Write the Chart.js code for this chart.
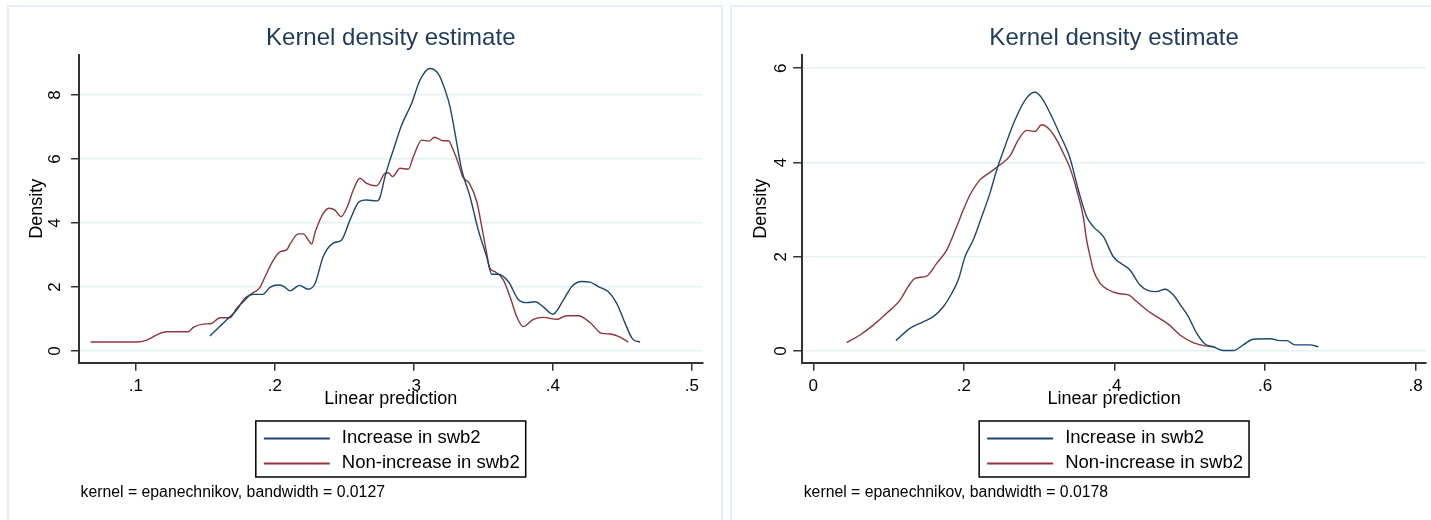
<!DOCTYPE html>
<html>
<head>
<meta charset="utf-8">
<title>Kernel density estimate</title>
<script src="https://cdn.jsdelivr.net/npm/chart.js@4.4.1/dist/chart.umd.min.js"></script>
<style>
  body { margin: 0; background: #ffffff; width: 1431px; height: 520px; overflow: hidden; position: relative; }
  .frame { position: absolute; top: 5px; height: 530px; border: 2px solid #e6eff1; }
  canvas { position: absolute; top: 0; }
</style>
</head>
<body>
<div class="frame" style="left:7px; width:712px;"></div>
<div class="frame" style="left:730px; width:720px;"></div>
<canvas id="leftChart" width="720" height="520" style="left:0px"></canvas>
<canvas id="rightChart" width="711" height="520" style="left:720px"></canvas>
<script>
// Data
var seriesNames = ['Increase in swb2', 'Non-increase in swb2'];

// left panel, bandwidth 0.0127
var leftIncX = [0.1533, 0.1665, 0.1725, 0.1785, 0.1845, 0.1912, 0.1965, 0.2024, 0.206, 0.2109, 0.2176, 0.224, 0.2289, 0.2348, 0.242, 0.248, 0.254, 0.2607, 0.266, 0.2732, 0.2756, 0.2792, 0.2828, 0.2852, 0.2912, 0.2984, 0.3044, 0.3116, 0.3176, 0.3224, 0.326, 0.3296, 0.3344, 0.3404, 0.3463, 0.3523, 0.356, 0.3607, 0.3679, 0.3751, 0.3811, 0.3871, 0.3931, 0.3999, 0.4075, 0.4135, 0.4207, 0.4267, 0.4327, 0.4399, 0.4459, 0.4519, 0.4574, 0.4627];
var leftIncY = [0.47, 1.02, 1.28, 1.65, 1.77, 1.77, 1.99, 2.06, 2.03, 1.88, 2.05, 1.93, 2.11, 2.95, 3.37, 3.47, 4.09, 4.67, 4.72, 4.69, 4.8, 5.45, 5.97, 6.28, 7.06, 7.74, 8.47, 8.83, 8.66, 8.16, 7.63, 6.80, 5.66, 4.82, 3.78, 2.95, 2.40, 2.40, 2.17, 1.61, 1.51, 1.54, 1.38, 1.15, 1.59, 2.01, 2.17, 2.15, 2.01, 1.85, 1.49, 0.87, 0.37, 0.28];
var leftNonX = [0.0675, 0.1, 0.1078, 0.1173, 0.122, 0.1377, 0.1413, 0.1485, 0.1545, 0.1605, 0.1677, 0.1725, 0.1773, 0.1821, 0.1893, 0.1929, 0.1989, 0.2037, 0.2085, 0.2109, 0.2168, 0.2204, 0.224, 0.2265, 0.2289, 0.2348, 0.2392, 0.2432, 0.2476, 0.2521, 0.2564, 0.2612, 0.266, 0.2732, 0.2792, 0.2816, 0.2847, 0.29, 0.296, 0.2996, 0.3056, 0.3111, 0.3147, 0.3211, 0.3248, 0.3283, 0.332, 0.3351, 0.3399, 0.3452, 0.3488, 0.3519, 0.3547, 0.3583, 0.3643, 0.3691, 0.374, 0.3787, 0.3859, 0.3931, 0.4027, 0.4099, 0.4183, 0.4267, 0.4351, 0.4411, 0.4483, 0.4542];
var leftNonY = [0.28, 0.28, 0.34, 0.55, 0.60, 0.60, 0.74, 0.84, 0.86, 1.04, 1.04, 1.33, 1.54, 1.75, 1.99, 2.32, 2.84, 3.10, 3.16, 3.34, 3.66, 3.66, 3.47, 3.34, 3.70, 4.30, 4.46, 4.40, 4.20, 4.51, 5.03, 5.40, 5.24, 5.16, 5.55, 5.57, 5.45, 5.71, 5.68, 6.07, 6.59, 6.56, 6.68, 6.57, 6.57, 6.28, 5.86, 5.45, 5.24, 4.67, 3.89, 3.16, 2.58, 2.48, 2.22, 1.70, 1.07, 0.76, 0.99, 1.05, 0.99, 1.10, 1.10, 0.89, 0.55, 0.53, 0.43, 0.28];
var leftXTicks = [0.1, 0.2, 0.3, 0.4, 0.5];
var leftYTicks = [0, 2, 4, 6, 8];

// right panel, bandwidth 0.0178
var rightIncX = [0.1098, 0.1284, 0.1461, 0.1594, 0.1727, 0.1838, 0.1926, 0.2015, 0.2125, 0.2237, 0.2347, 0.2436, 0.2546, 0.2679, 0.2834, 0.2945, 0.3034, 0.3144, 0.3277, 0.341, 0.352, 0.3631, 0.3719, 0.3852, 0.3985, 0.4206, 0.4339, 0.445, 0.4561, 0.4671, 0.4782, 0.4893, 0.4981, 0.5092, 0.5203, 0.5313, 0.5446, 0.5579, 0.5711, 0.5844, 0.6066, 0.6199, 0.6287, 0.6398, 0.6597, 0.6708];
var rightIncY = [0.22, 0.48, 0.62, 0.73, 0.94, 1.22, 1.51, 2.00, 2.36, 2.85, 3.35, 3.84, 4.34, 4.90, 5.37, 5.49, 5.37, 5.05, 4.59, 4.09, 3.42, 2.85, 2.64, 2.43, 2.00, 1.72, 1.40, 1.28, 1.26, 1.31, 1.19, 0.94, 0.73, 0.38, 0.15, 0.09, 0.01, 0.01, 0.13, 0.25, 0.26, 0.22, 0.22, 0.13, 0.13, 0.09];
var rightNonX = [0.0443, 0.062, 0.0797, 0.0975, 0.1152, 0.1262, 0.1351, 0.1506, 0.1639, 0.1772, 0.1905, 0.1992, 0.2081, 0.2214, 0.2347, 0.248, 0.2613, 0.2723, 0.2834, 0.2945, 0.3034, 0.3144, 0.3233, 0.332, 0.341, 0.3498, 0.3586, 0.3631, 0.3675, 0.3719, 0.3808, 0.3918, 0.4051, 0.4184, 0.4295, 0.4428, 0.4561, 0.4715, 0.487, 0.5047, 0.5203, 0.5313];
var rightNonY = [0.18, 0.34, 0.55, 0.80, 1.08, 1.37, 1.54, 1.59, 1.86, 2.14, 2.64, 2.99, 3.31, 3.63, 3.79, 3.95, 4.14, 4.48, 4.68, 4.66, 4.80, 4.69, 4.48, 4.20, 3.88, 3.42, 2.85, 2.35, 2.02, 1.72, 1.44, 1.30, 1.22, 1.19, 1.05, 0.87, 0.73, 0.57, 0.34, 0.18, 0.11, 0.09];
var rightXTicks = [0, 0.2, 0.4, 0.6, 0.8];
var rightYTicks = [0, 2, 4, 6];

var FONT = "'Liberation Sans', Arial, sans-serif";
var BLUE = '#1a476f';
var RED = '#90353b';

function toPoints(xs, ys) {
  var pts = [];
  for (var i = 0; i < xs.length; i++) {
    pts.push({ x: xs[i], y: ys[i] });
  }
  return pts;
}

function stataLabel(v) {   // .1 instead of 0.1
  var s = String(v);
  return s.replace(/^0\./, '.');
}

// draws the boxed legend and the kernel note under the x axis
var legendBoxPlugin = {
  id: 'legendBox',
  afterDraw: function (chart, args, opts) {
    var ctx = chart.ctx;
    var area = chart.chartArea;
    var sets = chart.data.datasets;
    ctx.save();
    ctx.font = '18.5px ' + FONT;
    var widest = 0;
    for (var i = 0; i < sets.length; i++) {
      widest = Math.max(widest, ctx.measureText(sets[i].label).width);
    }
    var boxW = 8 + 66 + 12 + widest + 6;
    var boxX = (area.left + area.right) / 2 - boxW / 2;
    var boxY = 421;
    ctx.strokeStyle = '#000000';
    ctx.lineWidth = 1.5;
    ctx.strokeRect(boxX, boxY, boxW, 56);
    ctx.textBaseline = 'middle';
    ctx.textAlign = 'left';
    for (var j = 0; j < sets.length; j++) {
      var rowY = 437.5 + j * 25;
      ctx.strokeStyle = sets[j].borderColor;
      ctx.lineWidth = 1.8;
      ctx.beginPath();
      ctx.moveTo(boxX + 8, rowY + 1);
      ctx.lineTo(boxX + 74, rowY + 1);
      ctx.stroke();
      ctx.fillStyle = '#000000';
      ctx.fillText(sets[j].label, boxX + 86, rowY);
    }
    ctx.font = '15.8px ' + FONT;
    ctx.fillText(opts.note, area.left + 1.5, 492.5);
    ctx.restore();
  }
};

function makeKdeChart(canvasId, p) {
  var ctx = document.getElementById(canvasId).getContext('2d');
  return new Chart(ctx, {
    type: 'line',
    data: {
      datasets: [
        { label: seriesNames[0], data: toPoints(p.incX, p.incY), borderColor: BLUE },
        { label: seriesNames[1], data: toPoints(p.nonX, p.nonY), borderColor: RED }
      ]
    },
    options: {
      responsive: false,
      animation: false,
      layout: { padding: { left: 0, right: p.padRight, top: 0, bottom: 0 } },
      elements: {
        point: { radius: 0 },
        line: { borderWidth: 1.4, fill: false, cubicInterpolationMode: 'monotone' }
      },
      plugins: {
        legend: { display: false },
        tooltip: { enabled: false },
        title: {
          display: true,
          fullSize: false,
          text: 'Kernel density estimate',
          color: '#1e3a5c',
          font: { family: FONT, size: 24, weight: 'normal', lineHeight: 1.2 },
          padding: { top: 23.9, bottom: 2.3 }
        },
        legendBox: { note: p.note }
      },
      scales: {
        x: {
          type: 'linear',
          min: p.xMin,
          max: p.xMax,
          afterBuildTicks: function (scale) {
            scale.ticks = p.xTicks.map(function (v) { return { value: v }; });
          },
          afterFit: function (scale) { scale.height = 520 - 362.7; },
          ticks: {
            font: { family: FONT, size: 17 },
            color: '#000000',
            padding: 5.1,
            maxRotation: 0,
            callback: function (v) { return stataLabel(v); }
          },
          grid: { drawOnChartArea: false, drawTicks: true, tickLength: 8, tickColor: '#333333', lineWidth: 1.5 },
          border: { display: true, color: '#333333', width: 2 },
          title: {
            display: true,
            text: 'Linear prediction',
            color: '#000000',
            font: { family: FONT, size: 18 },
            padding: { top: 0, bottom: 110.4 }
          }
        },
        y: {
          type: 'linear',
          min: p.yMin,
          max: p.yMax,
          afterBuildTicks: function (scale) {
            scale.ticks = p.yTicks.map(function (v) { return { value: v }; });
          },
          afterFit: function (scale) { scale.width = p.axisLeft; },
          ticks: {
            font: { family: FONT, size: 17 },
            color: '#000000',
            padding: p.yTickPad,
            minRotation: 90,
            maxRotation: 90,
            crossAlign: 'center'
          },
          grid: { color: '#e6eff1', lineWidth: 1.5, drawTicks: true, tickLength: p.yTickLen, tickColor: '#333333', tickWidth: 1.5 },
          border: { display: true, color: '#333333', width: 2 },
          title: {
            display: true,
            text: 'Density',
            color: '#000000',
            font: { family: FONT, size: 18 },
            padding: { top: p.densityPad, bottom: 0 }
          }
        }
      }
    },
    plugins: [legendBoxPlugin]
  });
}

makeKdeChart('leftChart', {
  incX: leftIncX, incY: leftIncY, nonX: leftNonX, nonY: leftNonY,
  xTicks: leftXTicks, yTicks: leftYTicks,
  xMin: 0.0591, xMax: 0.5076, yMin: -0.366, yMax: 9.25,
  axisLeft: 79, padRight: 17.5, yTickPad: 11.3, yTickLen: 8, densityPad: 26.7,
  note: 'kernel = epanechnikov, bandwidth = 0.0127'
});

makeKdeChart('rightChart', {
  incX: rightIncX, incY: rightIncY, nonX: rightNonX, nonY: rightNonY,
  xTicks: rightXTicks, yTicks: rightYTicks,
  xMin: -0.0147, xMax: 0.8138, yMin: -0.248, yMax: 6.28,
  axisLeft: 82.2, padRight: 5, yTickPad: 6.8, yTickLen: 9, densityPad: 30,
  note: 'kernel = epanechnikov, bandwidth = 0.0178'
});
</script>
</body>
</html>
